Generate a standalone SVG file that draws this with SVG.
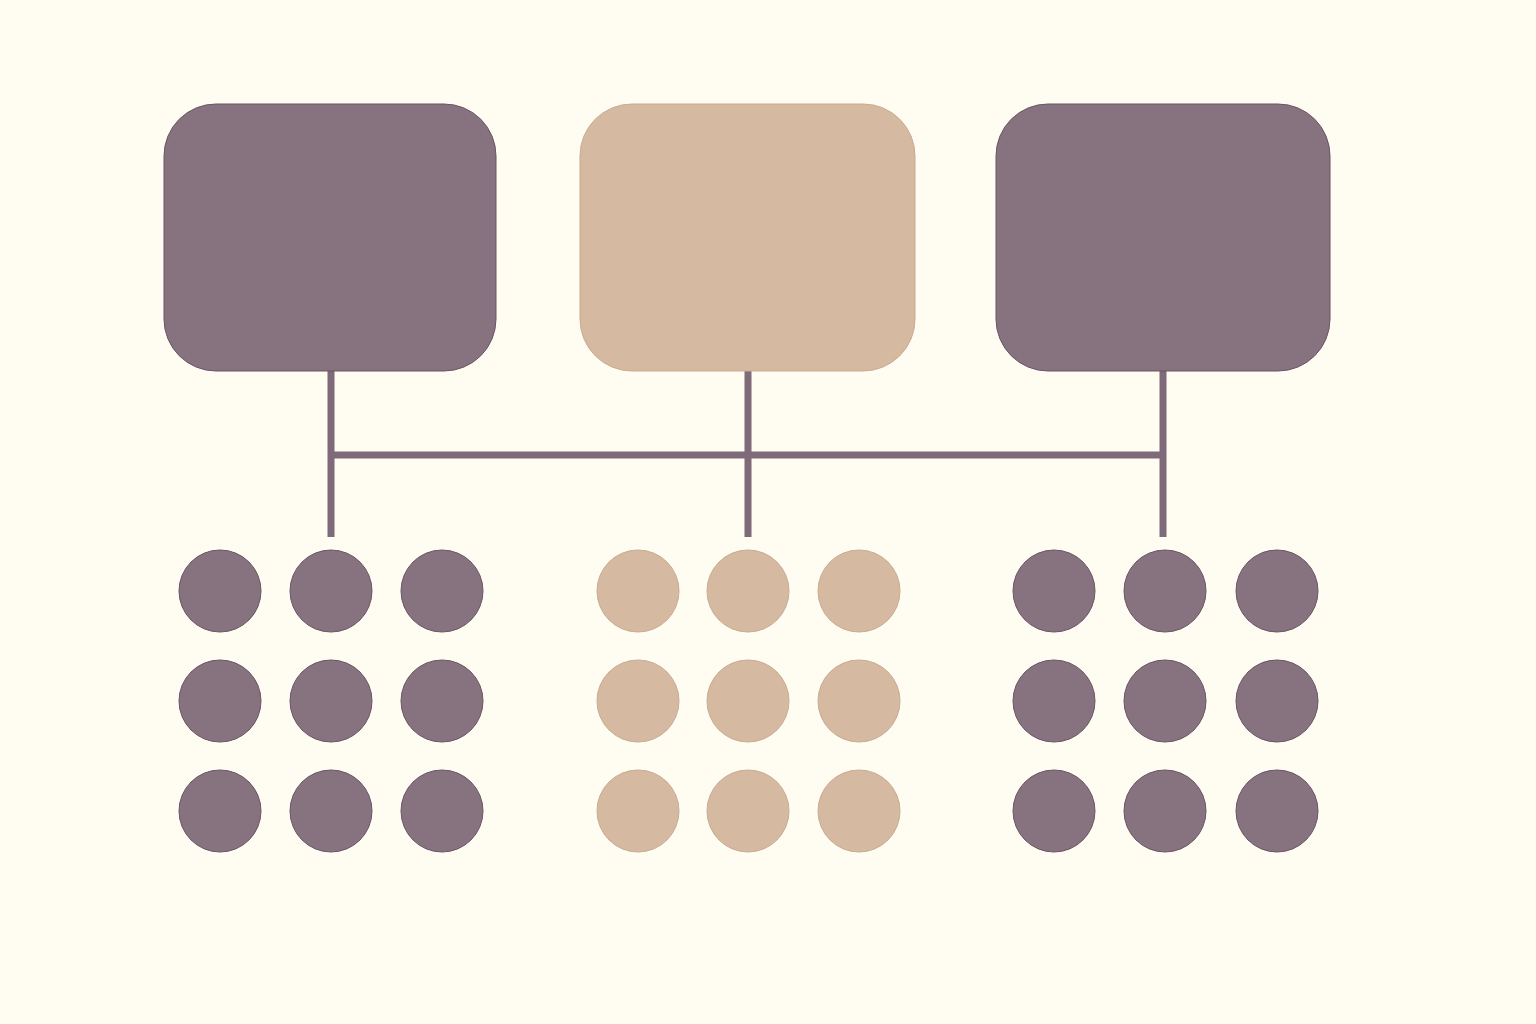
<svg xmlns="http://www.w3.org/2000/svg" width="1536" height="1024" viewBox="0 0 1536 1024">
<style>
.p{fill:#877280;stroke:#6a5566;stroke-width:1}
.t{fill:#d5b9a0;stroke:#c9ab92;stroke-width:1}
.c{stroke:#7e6a78;stroke-width:7;fill:none}
</style>
<rect width="1536" height="1024" fill="#fffcf1"/>
<g id="connectors">
<line class="c" x1="331" y1="371" x2="331" y2="537"/>
<line class="c" x1="748" y1="371" x2="748" y2="537"/>
<line class="c" x1="1163" y1="371" x2="1163" y2="537"/>
<line class="c" x1="331" y1="455" x2="1163" y2="455"/>
</g>
<g id="box1"><rect class="p" x="164" y="104" width="332" height="267" rx="52"/></g>
<g id="box2"><rect class="t" x="580" y="104" width="335" height="267" rx="52"/></g>
<g id="box3"><rect class="p" x="996" y="104" width="334" height="267" rx="52"/></g>
<g id="group1">
<circle class="p" cx="220" cy="591" r="41"/><circle class="p" cx="331" cy="591" r="41"/><circle class="p" cx="442" cy="591" r="41"/>
<circle class="p" cx="220" cy="701" r="41"/><circle class="p" cx="331" cy="701" r="41"/><circle class="p" cx="442" cy="701" r="41"/>
<circle class="p" cx="220" cy="811" r="41"/><circle class="p" cx="331" cy="811" r="41"/><circle class="p" cx="442" cy="811" r="41"/>
</g>
<g id="group2">
<circle class="t" cx="638" cy="591" r="41"/><circle class="t" cx="748" cy="591" r="41"/><circle class="t" cx="859" cy="591" r="41"/>
<circle class="t" cx="638" cy="701" r="41"/><circle class="t" cx="748" cy="701" r="41"/><circle class="t" cx="859" cy="701" r="41"/>
<circle class="t" cx="638" cy="811" r="41"/><circle class="t" cx="748" cy="811" r="41"/><circle class="t" cx="859" cy="811" r="41"/>
</g>
<g id="group3">
<circle class="p" cx="1054" cy="591" r="41"/><circle class="p" cx="1165" cy="591" r="41"/><circle class="p" cx="1277" cy="591" r="41"/>
<circle class="p" cx="1054" cy="701" r="41"/><circle class="p" cx="1165" cy="701" r="41"/><circle class="p" cx="1277" cy="701" r="41"/>
<circle class="p" cx="1054" cy="811" r="41"/><circle class="p" cx="1165" cy="811" r="41"/><circle class="p" cx="1277" cy="811" r="41"/>
</g>
</svg>
